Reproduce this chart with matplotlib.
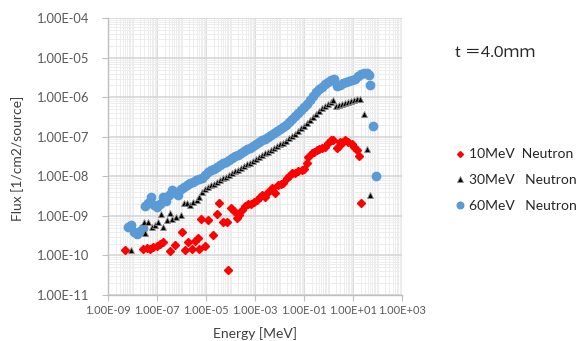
import numpy as np
import matplotlib
matplotlib.use("Agg")
import matplotlib.pyplot as plt
from matplotlib.ticker import FixedLocator, LogLocator, FuncFormatter, NullFormatter

plt.rcParams['font.family'] = ['Lato', 'Noto Sans CJK JP', 'DejaVu Sans']

# values, stored as log10(energy [MeV]) and log10(flux)
red_log_e = [-8.32, -7.58, -7.44, -7.30, -7.18, -7.03, -6.89, -6.75, -6.48, -6.28,
             -6.01, -5.87, -5.73, -5.58, -5.48, -5.34, -5.30, -5.20, -5.05, -4.92,
             -4.71, -4.58, -4.48, -4.31, -4.17, -4.10, -3.99, -3.87, -3.75, -3.67,
             -3.54, -3.42, -3.30, -3.18, -3.05, -2.93, -2.81, -2.73, -2.60, -2.47,
             -2.33, -2.20, -2.06, -1.95, -1.85, -1.72, -1.62, -1.50, -1.38, -1.26,
             -1.11, -1.01, -0.90, -0.84, -0.70, -0.60, -0.49, -0.40, -0.29, -0.16,
             -0.02, 0.09, 0.18, 0.32, 0.40, 0.46, 0.56, 0.66, 0.78, 0.93,
             1.03, 1.14, 1.24, 1.31]
red_log_flux = [-9.87, -9.84, -9.82, -9.84, -9.79, -9.75, -9.71, -9.66, -9.88, -9.74,
                -9.40, -9.87, -9.66, -9.84, -9.64, -9.57, -9.83, -9.08, -9.75, -9.11,
                -9.49, -8.94, -8.68, -9.15, -9.15, -10.36, -8.79, -8.88, -9.06, -8.98,
                -8.85, -8.76, -8.70, -8.70, -8.64, -8.60, -8.52, -8.47, -8.51, -8.39,
                -8.30, -8.43, -8.22, -8.20, -8.17, -8.04, -7.99, -7.92, -7.92, -7.87,
                -7.84, -7.82, -7.67, -7.52, -7.42, -7.37, -7.33, -7.31, -7.28, -7.25,
                -7.16, -7.09, -7.07, -7.29, -7.23, -7.13, -7.14, -7.09, -7.12, -7.18,
                -7.25, -7.33, -7.49, -8.67]

black_log_e = [-8.09, -7.54, -7.50, -7.37, -7.23, -7.09, -6.96, -6.85, -6.75, -6.62,
               -6.48, -6.38, -6.24, -6.03, -5.93, -5.79, -5.67, -5.53, -5.39, -5.28,
               -5.18, -5.05, -4.93, -4.81, -4.69, -4.56, -4.44, -4.32, -4.20, -4.07,
               -3.95, -3.83, -3.71, -3.58, -3.46, -3.34, -3.22, -3.09, -2.97, -2.85,
               -2.73, -2.60, -2.48, -2.36, -2.24, -2.11, -1.99, -1.87, -1.75, -1.62,
               -1.50, -1.38, -1.26, -1.13, -1.01, -0.89, -0.77, -0.64, -0.52, -0.40,
               -0.28, -0.16, -0.03, 0.09, 0.19, 0.31, 0.42, 0.54, 0.66, 0.78,
               0.91, 1.03, 1.15, 1.27, 1.42, 1.58, 1.68]
black_log_flux = [-9.87, -9.16, -9.44, -9.15, -9.28, -9.23, -9.15, -8.95, -9.28, -9.11,
                  -8.92, -9.08, -9.02, -8.98, -8.68, -8.68, -8.73, -8.64, -8.59, -8.51,
                  -8.40, -8.32, -8.27, -8.22, -8.18, -8.14, -8.09, -8.04, -8.01, -7.97,
                  -7.92, -7.87, -7.83, -7.79, -7.74, -7.69, -7.65, -7.61, -7.56, -7.51,
                  -7.46, -7.42, -7.38, -7.33, -7.28, -7.23, -7.19, -7.16, -7.11, -7.04,
                  -6.98, -6.92, -6.85, -6.78, -6.73, -6.65, -6.57, -6.50, -6.42, -6.35,
                  -6.27, -6.22, -6.17, -6.11, -6.07, -6.23, -6.19, -6.16, -6.13, -6.11,
                  -6.08, -6.06, -6.04, -6.04, -6.42, -7.31, -8.47]

blue_log_e = [-8.20, -8.07, -7.95, -7.83, -7.71, -7.58, -7.50, -7.38, -7.26, -7.13,
              -7.01, -6.89, -6.77, -6.64, -6.52, -6.40, -6.28, -6.16, -6.03, -5.91,
              -5.79, -5.67, -5.54, -5.42, -5.30, -5.18,
              -5.05, -4.93, -4.81, -4.69, -4.56, -4.44, -4.32, -4.20, -4.07, -3.95,
              -3.83, -3.71, -3.58, -3.46, -3.34, -3.22, -3.09, -2.97, -2.85, -2.73,
              -2.60, -2.48, -2.36, -2.24, -2.11, -1.99, -1.87, -1.75, -1.62, -1.50,
              -1.38, -1.26, -1.13, -1.01, -0.89, -0.77, -0.64, -0.52, -0.40, -0.28,
              -0.16, -0.03, 0.09, 0.21, 0.33, 0.46, 0.58, 0.70, 0.82, 0.95,
              1.07, 1.19, 1.31, 1.44, 1.56,
              1.64, 1.68, 1.80, 1.93]
blue_log_flux = [-9.28, -9.23, -9.41, -9.46, -9.39, -9.31, -8.75, -8.68, -8.52, -8.73,
                 -8.78, -8.70, -8.52, -8.63, -8.47, -8.35, -8.40, -8.47, -8.32, -8.27,
                 -8.22, -8.17, -8.14, -8.09, -8.07, -8.04,
                 -7.97, -7.89, -7.84, -7.82, -7.76, -7.71, -7.66, -7.64, -7.59, -7.54,
                 -7.49, -7.46, -7.41, -7.36, -7.31, -7.28, -7.23, -7.18, -7.13, -7.08,
                 -7.06, -7.01, -6.95, -6.90, -6.85, -6.80, -6.75, -6.70, -6.63, -6.55,
                 -6.47, -6.40, -6.32, -6.25, -6.17, -6.07, -5.97, -5.87, -5.79, -5.74,
                 -5.66, -5.61, -5.56, -5.54, -5.71, -5.69, -5.64, -5.61, -5.59, -5.56,
                 -5.54, -5.46, -5.41, -5.38, -5.38,
                 -5.44, -5.69, -6.73, -7.99]

labels = ["10MeV  Neutron", "30MeV   Neutron", "60MeV   Neutron"]

fig = plt.figure(figsize=(5.8, 3.41), dpi=100)
ax = fig.add_axes([0.1867, 0.1349, 0.5069, 0.8114])

blue_pts, = ax.plot(10 ** np.array(blue_log_e), 10 ** np.array(blue_log_flux), ls='none',
                    marker='o', ms=6.0, mfc='#5b9bd5', mec='#5b9bd5', label=labels[2])
black_pts, = ax.plot(10 ** np.array(black_log_e), 10 ** np.array(black_log_flux), ls='none',
                     marker='^', ms=4.6, mfc='black', mec='#8c8c8c', mew=0.6, label=labels[1])
red_pts, = ax.plot(10 ** np.array(red_log_e), 10 ** np.array(red_log_flux), ls='none',
                   marker='D', ms=3.7, mfc='#ff0000', mec='#ff0000', label=labels[0])

ax.set_xscale('log')
ax.set_yscale('log')
ax.set_xlim(1e-9, 1e3)
ax.set_ylim(1e-11, 1e-4)

ax.xaxis.set_major_locator(FixedLocator(10.0 ** np.arange(-9, 4, 2)))
ax.xaxis.set_minor_locator(LogLocator(base=10, subs=np.arange(1, 10), numticks=200))
ax.yaxis.set_major_locator(FixedLocator(10.0 ** np.arange(-11, -3)))
ax.yaxis.set_minor_locator(LogLocator(base=10, subs=np.arange(2, 10), numticks=200))
fmt = FuncFormatter(lambda v, p: f"{v:.2E}")
ax.xaxis.set_major_formatter(fmt)
ax.yaxis.set_major_formatter(fmt)
ax.xaxis.set_minor_formatter(NullFormatter())
ax.yaxis.set_minor_formatter(NullFormatter())

ax.set_axisbelow(True)
ax.grid(which='major', color='#d9d9d9', lw=1.3)
ax.grid(which='minor', color='#ededed', lw=0.7)

for s in ['top', 'right']:
    ax.spines[s].set_visible(False)
for s in ['left', 'bottom']:
    ax.spines[s].set_color('#bfbfbf')
    ax.spines[s].set_linewidth(1.0)

ax.tick_params(which='minor', length=0)
ax.tick_params(axis='x', which='major', length=4.5, color='#bfbfbf', labelsize=8,
               labelcolor='#595959', pad=3)
ax.tick_params(axis='y', which='major', length=4.5, color='#bfbfbf', labelsize=9.3,
               labelcolor='#595959', pad=9)

ax.set_xlabel("Energy [MeV]", fontsize=10, color='#404040')
ax.xaxis.set_label_coords(0.5, -0.115)
ax.set_ylabel("Flux [1/cm2/source]", fontsize=10, color='#404040')
ax.yaxis.set_label_coords(-0.285, 0.495)

fig.text(0.785, 0.845, "t ＝4.0ｍｍ", fontsize=11.5, color='#262626', va='center', ha='left')

fig.legend(handles=[red_pts, black_pts, blue_pts], loc='upper left',
           bbox_to_anchor=(0.772, 0.585), frameon=False, fontsize=10,
           handlelength=0.8, handletextpad=0.2, labelspacing=1.0, borderpad=0,
           labelcolor='#262626', markerscale=0.8)

plt.savefig('out.png', dpi=100)
